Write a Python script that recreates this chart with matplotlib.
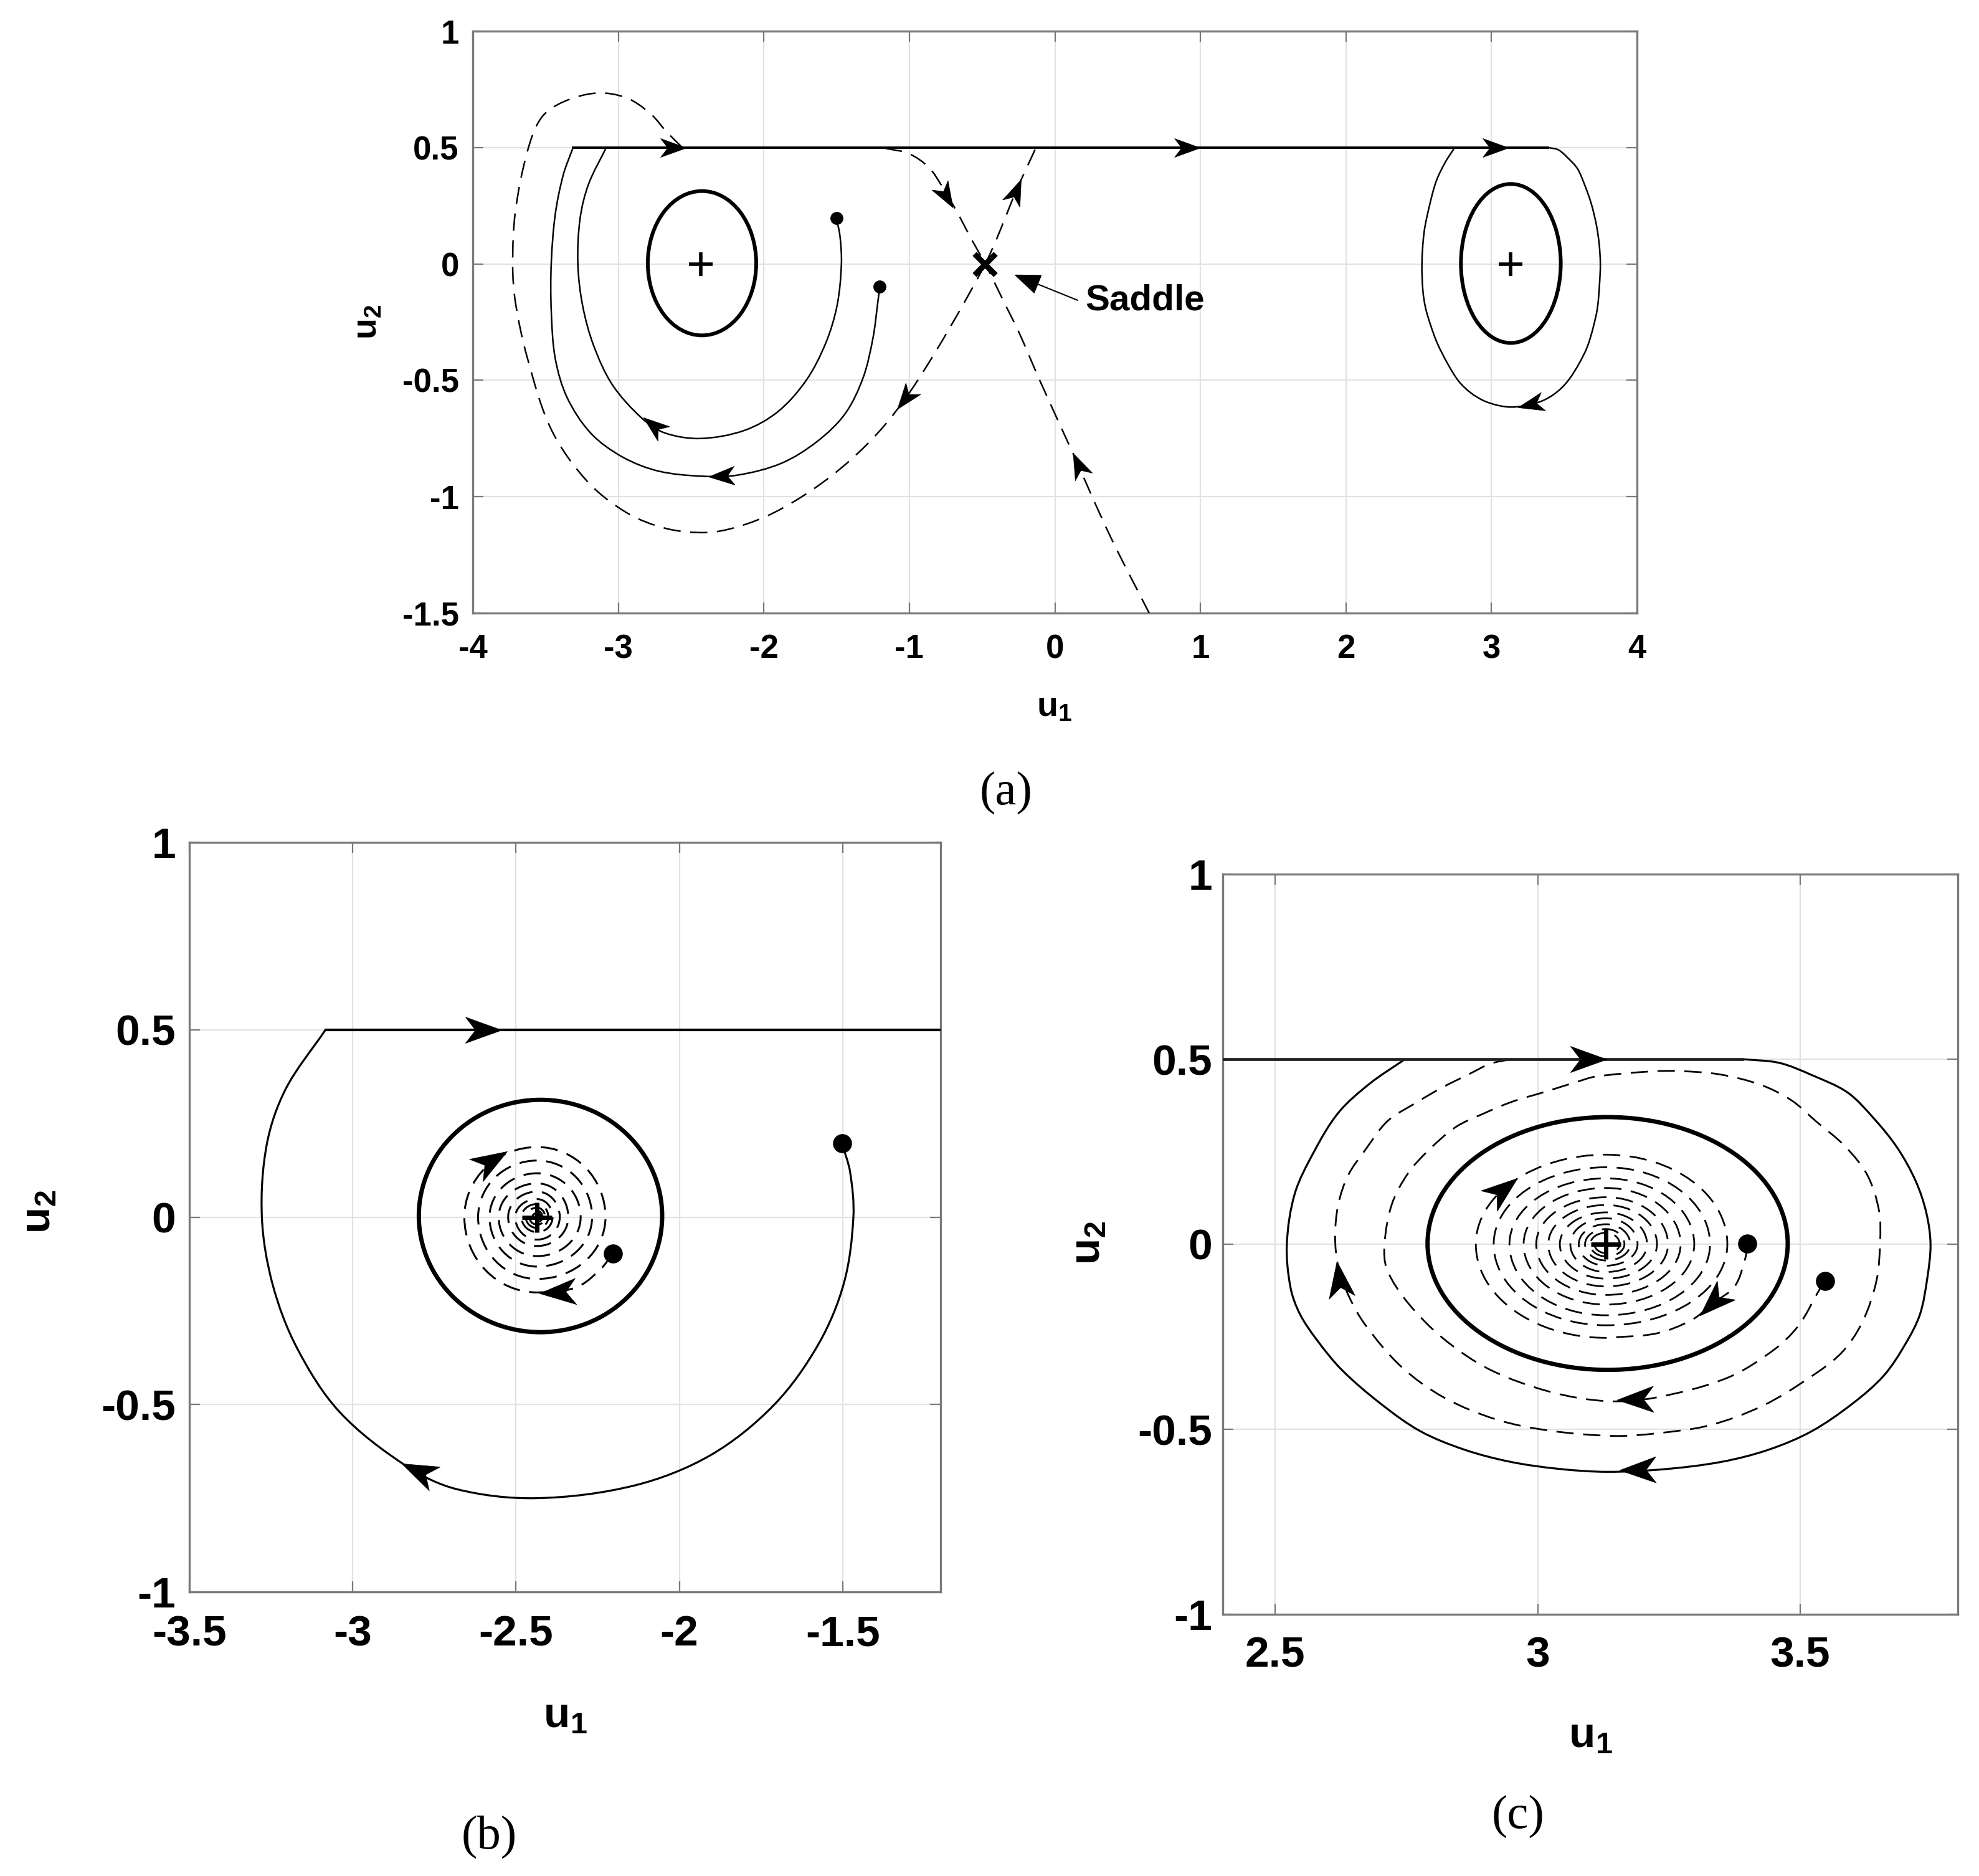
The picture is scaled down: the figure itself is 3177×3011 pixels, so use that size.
import numpy as np
import matplotlib
matplotlib.use('Agg')
import matplotlib.pyplot as plt
from matplotlib.path import Path
from matplotlib.patches import PathPatch, Ellipse
from matplotlib.markers import MarkerStyle
from matplotlib.transforms import Affine2D

plt.rcParams['font.family'] = ['Liberation Sans', 'DejaVu Sans']
plt.rcParams['font.weight'] = 'bold'
plt.rcParams['axes.unicode_minus'] = False
plt.rcParams['mathtext.fontset'] = 'custom'
plt.rcParams['mathtext.rm'] = 'Liberation Sans:bold'
plt.rcParams['mathtext.it'] = 'Liberation Sans:bold'
plt.rcParams['mathtext.bf'] = 'Liberation Sans:bold'
plt.rcParams['lines.scale_dashes'] = False

# ======================= DATA =======================
CENTER_L = (-2.435, 0.0)
CENTER_R = (3.13, 0.0)
SADDLE = (-0.48, 0.0)
SLIDE_U2 = 0.5

# limit cycles: centre u1, centre u2, width, height
CYCLE_L = (-2.425, 0.003, 0.745, 0.62)
CYCLE_R = (3.133, 0.002, 0.686, 0.683)

# initial points
DOTS_A_U1 = [-1.502, -1.203]
DOTS_A_U2 = [0.197, -0.097]
DOTS_B_U1 = [-1.502, -2.204]
DOTS_B_U2 = [0.197, -0.098]
DOTS_C_U1 = [3.547, 3.399]
DOTS_C_U2 = [-0.099, 0.002]

# solid trajectory from (-1.5, 0.2) to the sliding line
TRAJ1_U1 = [-1.502, -1.477, -1.467, -1.496, -1.574, -1.710, -1.904, -2.137, -2.438,
            -2.681, -2.836, -3.04, -3.17, -3.245, -3.278, -3.263, -3.205, -3.083]
TRAJ1_U2 = [0.197, 0.120, 0.0, -0.176, -0.339, -0.501, -0.635, -0.716, -0.750,
            -0.726, -0.664, -0.52, -0.35, -0.18, 0.0, 0.194, 0.342, 0.5]

# solid trajectory from (-1.2, -0.1) to the sliding line
TRAJ2_U1 = [-1.203, -1.217, -1.250, -1.318, -1.441, -1.632, -1.878, -2.178, -2.424,
            -2.724, -2.970, -3.188, -3.352, -3.434, -3.461, -3.461, -3.434, -3.379, -3.311]
TRAJ2_U2 = [-0.097, -0.165, -0.318, -0.489, -0.643, -0.762, -0.856, -0.907, -0.912,
            -0.890, -0.830, -0.728, -0.574, -0.404, -0.199, 0.0, 0.210, 0.381, 0.5]

# solid loop around the right centre (leaves the sliding line and returns to it)
LOOP_R_U1 = [3.39, 3.46, 3.522, 3.59, 3.64, 3.685, 3.72, 3.74, 3.748, 3.742, 3.728,
             3.70, 3.659, 3.60, 3.522, 3.44, 3.35, 3.24, 3.132, 3.04, 2.948, 2.86,
             2.776, 2.70, 2.627, 2.58, 2.547, 2.529, 2.522, 2.537, 2.573, 2.620, 2.679, 2.747]
LOOP_R_U2 = [0.5, 0.49, 0.457, 0.41, 0.34, 0.26, 0.17, 0.085, 0.0, -0.09, -0.189,
             -0.27, -0.355, -0.43, -0.505, -0.555, -0.588, -0.608, -0.615, -0.607, -0.588, -0.555,
             -0.505, -0.43, -0.340, -0.26, -0.189, -0.117, 0.0, 0.136, 0.248, 0.355, 0.433, 0.5]

# sliding segments on u2 = 0.5
SLIDE_A_U1 = [-3.311, 3.39]
SLIDE_B_U1 = [-3.083, -1.2]
SLIDE_C_U1 = [2.4, 3.39]

# dashed: unstable manifold (lower branch) of the saddle, big loop to the line
UNST_LO_U1 = [-0.477, -0.622, -0.813, -1.004, -1.195, -1.413, -1.659, -1.932, -2.178,
              -2.396, -2.669, -2.942, -3.215, -3.461, -3.625, -3.707, -3.726, -3.707,
              -3.625, -3.529, -3.379, -3.147, -2.942, -2.778, -2.669, -2.56]
UNST_LO_U2 = [0.0, -0.165, -0.370, -0.557, -0.711, -0.847, -0.967, -1.069, -1.129,
              -1.154, -1.137, -1.069, -0.933, -0.711, -0.404, -0.165, 0.0, 0.227,
              0.483, 0.628, 0.696, 0.734, 0.713, 0.645, 0.568, 0.5]
# dashed: unstable manifold (upper branch)
UNST_UP_U1 = [-0.477, -0.40, -0.267, -0.13]
UNST_UP_U2 = [0.0, 0.108, 0.312, 0.5]
# dashed: stable manifold, upper branch (from the line down to the saddle)
STAB_UP_U1 = [-1.168, -1.004, -0.867, -0.772, -0.676, -0.567, -0.477]
STAB_UP_U2 = [0.497, 0.474, 0.415, 0.330, 0.227, 0.099, 0.0]
# dashed: stable manifold, lower branch (from the bottom up to the saddle)
STAB_LO_U1 = [0.651, 0.381, 0.111, -0.10, -0.25, -0.349, -0.477]
STAB_LO_U2 = [-1.504, -1.171, -0.796, -0.506, -0.29, -0.165, 0.0]

# panel (b): dashed spiral into the left centre
SPIR_B_LEAD_U1 = [-2.204, -2.239, -2.302, -2.366, -2.435]
SPIR_B_LEAD_U2 = [-0.098, -0.137, -0.182, -0.198, -0.201]
# axis-crossing distances from the centre, clockwise, starting at the bottom
SPIR_B_RADII = [0.201, 0.223, 0.187, 0.209, 0.165, 0.181, 0.151, 0.168, 0.132, 0.146,
                0.117, 0.133, 0.104, 0.118, 0.090, 0.095, 0.077, 0.089, 0.068, 0.069,
                0.060, 0.067, 0.048, 0.047, 0.040, 0.048, 0.035, 0.034, 0.029, 0.035,
                0.025, 0.024, 0.020, 0.024, 0.017, 0.016, 0.013, 0.015, 0.011, 0.010]

# panel (c): dashed spiral into the right centre
SPIR_C_LEAD_U1 = [3.399, 3.395, 3.375, 3.334, 3.294, 3.226, 3.13]
SPIR_C_LEAD_U2 = [0.002, -0.039, -0.114, -0.159, -0.204, -0.241, -0.253]
SPIR_C_RADII = [0.253, 0.248, 0.242, 0.231, 0.219, 0.214, 0.208, 0.198, 0.192, 0.184,
                0.178, 0.168, 0.163, 0.157, 0.152, 0.142, 0.137, 0.133, 0.127, 0.118,
                0.114, 0.110, 0.106, 0.097, 0.093, 0.088, 0.086, 0.078, 0.075, 0.068,
                0.070, 0.060, 0.058, 0.052, 0.054, 0.046, 0.044, 0.040, 0.041, 0.035,
                0.033, 0.030, 0.031, 0.026, 0.024, 0.022]

# panel (c): dashed trajectory from (3.55, -0.1), spiralling out to the line
TRAJ_C_U1 = [3.547, 3.537, 3.497, 3.449, 3.361, 3.226, 3.132, 3.024, 2.909, 2.821,
             2.753, 2.713, 2.708, 2.722, 2.753, 2.792, 2.843, 2.895, 2.953, 3.012,
             3.075, 3.110, 3.216, 3.267, 3.346, 3.424, 3.483, 3.53, 3.585, 3.628,
             3.650, 3.652, 3.645, 3.618, 3.578, 3.517, 3.429, 3.328, 3.226, 3.145,
             3.024, 2.922, 2.821, 2.74, 2.672, 2.64, 2.62, 2.614, 2.62, 2.639,
             2.671, 2.714, 2.769, 2.816, 2.871, 2.91, 2.95]
TRAJ_C_U2 = [-0.099, -0.121, -0.219, -0.286, -0.361, -0.414, -0.424, -0.399, -0.339, -0.256,
             -0.159, -0.069, 0.0, 0.108, 0.192, 0.254, 0.316, 0.352, 0.386, 0.411,
             0.439, 0.453, 0.467, 0.468, 0.459, 0.431, 0.389, 0.332, 0.265, 0.186,
             0.09, 0.006, -0.099, -0.211, -0.294, -0.361, -0.436, -0.489, -0.511, -0.518,
             -0.504, -0.474, -0.414, -0.331, -0.219, -0.14, -0.06, 0.02, 0.108, 0.187,
             0.254, 0.333, 0.383, 0.422, 0.461, 0.488, 0.5]

# arrowheads: position and direction of motion
ARR_A_U1 = [-2.62, 0.91, 3.03, 3.27, -2.76, -2.29, -0.745, -0.267, -1.03, 0.16]
ARR_A_U2 = [0.5, 0.5, 0.5, -0.603, -0.695, -0.91, 0.29, 0.312, -0.578, -0.864]
ARR_A_D1 = [1, 1, 1, -1, -0.178, -1, 0.096, 0.133, -0.19, -0.27]
ARR_A_D2 = [0, 0, 0, -0.15, 0.089, -0.03, -0.103, 0.2, -0.154, 0.375]

ARR_B_U1 = [-2.60, -2.80, -2.372, -2.575]
ARR_B_U2 = [0.5, -0.678, -0.20, 0.15]
ARR_B_D1 = [1, -0.155, -1, 0.17]
ARR_B_D2 = [0, 0.062, -0.05, 0.09]

ARR_C_U1 = [3.097, 3.19, 3.186, 2.622, 3.334, 2.934]
ARR_C_U2 = [0.5, -0.61, -0.42, -0.094, -0.159, 0.148]
ARR_C_D1 = [1, -1, -1, -0.01, -0.027, 0.15]
ARR_C_D2 = [0, -0.02, -0.03, 0.1, -0.037, 0.17]

# axes ticks
A_XTICKS = [-4, -3, -2, -1, 0, 1, 2, 3, 4]
A_XLABELS = ['-4', '-3', '-2', '-1', '0', '1', '2', '3', '4']
A_YTICKS = [-1.5, -1, -0.5, 0, 0.5, 1]
A_YLABELS = ['-1.5', '-1', '-0.5', '0', '0.5', '1']
B_XTICKS = [-3.5, -3, -2.5, -2, -1.5]
B_XLABELS = ['-3.5', '-3', '-2.5', '-2', '-1.5']
BC_YTICKS = [-1, -0.5, 0, 0.5, 1]
BC_YLABELS = ['-1', '-0.5', '0', '0.5', '1']
C_XTICKS = [2.5, 3, 3.5]
C_XLABELS = ['2.5', '3', '3.5']

# ======================= helpers =======================
W, H = 3177, 3011
KAPPA = 0.5523


def catmull_verts(ax, xs, ys):
    """Chord-length Catmull-Rom through the read points, as cubic Bezier segments."""
    P = np.column_stack([xs, ys]).astype(float)
    (x0, x1), (y0, y1) = ax.get_xlim(), ax.get_ylim()
    bb = ax.get_position()
    sc = np.array([bb.width * W / (x1 - x0), bb.height * H / (y1 - y0)])
    n = len(P)
    d = np.array([np.linalg.norm((P[i + 1] - P[i]) * sc) for i in range(n - 1)])
    T = []
    for i in range(n):
        if i == 0:
            T.append((P[1] - P[0]) / d[0])
        elif i == n - 1:
            T.append((P[-1] - P[-2]) / d[-1])
        else:
            T.append((P[i + 1] - P[i - 1]) / (d[i - 1] + d[i]))
    verts = [P[0]]
    codes = [Path.MOVETO]
    for i in range(n - 1):
        verts += [P[i] + T[i] * d[i] / 3.0, P[i + 1] - T[i + 1] * d[i] / 3.0, P[i + 1]]
        codes += [Path.CURVE4] * 3
    return verts, codes


def spiral_verts(cx, cy, radii, start=1):
    dirs = [(1, 0), (0, -1), (-1, 0), (0, 1)]  # clockwise: right, bottom, left, top
    verts, codes = [], []
    for i in range(len(radii) - 1):
        d0 = np.array(dirs[(start + i) % 4], float)
        d1 = np.array(dirs[(start + i + 1) % 4], float)
        r0, r1 = radii[i], radii[i + 1]
        c = np.array([cx, cy])
        p0 = c + r0 * d0
        p3 = c + r1 * d1
        verts += [p0 + KAPPA * r1 * d1, p3 + KAPPA * r0 * d0, p3]
        codes += [Path.CURVE4] * 3
    return verts, codes


def add_curve(ax, verts, codes, lw, dashed=False, color='k', z=3):
    ls = (0, (20, 11)) if dashed else '-'
    ax.add_patch(PathPatch(Path(verts, codes), fill=False, lw=lw, ls=ls,
                           edgecolor=color, zorder=z, capstyle='butt'))


def smooth(ax, xs, ys, lw, dashed=False, color='k', z=3):
    v, c = catmull_verts(ax, xs, ys)
    add_curve(ax, v, c, lw, dashed, color, z)


ARROW_PATH = Path([(1, 0), (-1, 0.72), (-0.45, 0), (-1, -0.72), (1, 0)],
                  [Path.MOVETO, Path.LINETO, Path.LINETO, Path.LINETO, Path.CLOSEPOLY])


def arrowheads(ax, xs, ys, dxs, dys, size):
    for x, y, dx, dy in zip(xs, ys, dxs, dys):
        p0 = ax.transData.transform((x, y))
        p1 = ax.transData.transform((x + dx * 1e-3, y + dy * 1e-3))
        ang = np.degrees(np.arctan2(p1[1] - p0[1], p1[0] - p0[0]))
        m = MarkerStyle(ARROW_PATH, transform=Affine2D().rotate_deg(ang))
        ax.plot([x], [y], marker=m, ms=size, color='k', mec='k', mew=0.5,
                ls='none', zorder=7)


def style_axes(ax, xlim, ylim, xt, xl, yt, yl, fs, xpad, ypad):
    ax.set_xlim(*xlim)
    ax.set_ylim(*ylim)
    ax.set_xticks(xt)
    ax.set_xticklabels(xl)
    ax.set_yticks(yt)
    ax.set_yticklabels(yl)
    ax.grid(True, color='#e2e2e2', lw=1.6)
    ax.set_axisbelow(True)
    ax.tick_params(direction='in', length=12, width=1.6, color='#7a7a7a',
                   top=True, right=True, labelsize=fs)
    ax.tick_params(axis='x', pad=xpad)
    ax.tick_params(axis='y', pad=ypad)
    for s in ax.spines.values():
        s.set_color('#7a7a7a')
        s.set_linewidth(2.4)


def ftext(x, y, s, **kw):
    fig.text(x / W, 1 - y / H, s, ha='center', va='center', **kw)


fig = plt.figure(figsize=(W / 100, H / 100), dpi=100)
fig.patch.set_facecolor('white')

axA = fig.add_axes([759 / W, 1 - 984 / H, (2628 - 759) / W, (984 - 50) / H])
axB = fig.add_axes([304 / W, 1 - 2555 / H, (1510 - 304) / W, (2555 - 1352) / H])
axC = fig.add_axes([1963 / W, 1 - 2591 / H, (3143 - 1963) / W, (2591 - 1403) / H])

style_axes(axA, (-4, 4), (-1.5, 1), A_XTICKS, A_XLABELS, A_YTICKS, A_YLABELS, 38, 24, 16)
style_axes(axB, (-3.5, -1.2), (-1, 1), B_XTICKS, B_XLABELS, BC_YTICKS, BC_YLABELS, 50, 26, 16)
style_axes(axC, (2.4, 3.8), (-1, 1), C_XTICKS, C_XLABELS, BC_YTICKS, BC_YLABELS, 50, 25, 12)

# ---------------- panel (a) ----------------
thin_a = 1.8
axA.plot(SLIDE_A_U1, [SLIDE_U2] * 2, color='k', lw=2.8, zorder=4)
smooth(axA, LOOP_R_U1, LOOP_R_U2, thin_a)
smooth(axA, TRAJ1_U1, TRAJ1_U2, thin_a)
smooth(axA, TRAJ2_U1, TRAJ2_U2, thin_a)
smooth(axA, UNST_LO_U1, UNST_LO_U2, thin_a, dashed=True)
smooth(axA, UNST_UP_U1, UNST_UP_U2, thin_a, dashed=True)
smooth(axA, STAB_UP_U1, STAB_UP_U2, thin_a, dashed=True)
smooth(axA, STAB_LO_U1, STAB_LO_U2, thin_a, dashed=True)
for cyc in (CYCLE_L, CYCLE_R):
    axA.add_patch(Ellipse((cyc[0], cyc[1]), cyc[2], cyc[3], fill=False, lw=4.3,
                          edgecolor='k', zorder=4))
axA.plot([CENTER_L[0], CENTER_R[0]], [CENTER_L[1], CENTER_R[1]], ls='none', marker='+',
         ms=27, mew=4, color='k', zorder=6)
axA.plot(DOTS_A_U1, DOTS_A_U2, ls='none', marker='o', ms=14, color='k', zorder=6)
axA.plot([SADDLE[0]], [SADDLE[1]], ls='none', marker='x', ms=24, mew=6.5, color='k', zorder=6)
arrowheads(axA, ARR_A_U1, ARR_A_U2, ARR_A_D1, ARR_A_D2, 30)
axA.annotate('', xy=(-0.28, -0.046), xytext=(0.156, -0.156),
             arrowprops=dict(arrowstyle='-|>,head_length=0.9,head_width=0.35',
                             lw=1.5, color='k', mutation_scale=30, shrinkA=0, shrinkB=0),
             zorder=6)
axA.text(0.21, -0.158, 'Saddle', ha='left', va='center', fontsize=42, fontweight='bold')

# ---------------- panel (b) ----------------
thin_b = 2.3
axB.plot(SLIDE_B_U1, [SLIDE_U2] * 2, color='k', lw=3.0, zorder=4)
smooth(axB, TRAJ1_U1, TRAJ1_U2, thin_b)
v1, c1 = catmull_verts(axB, SPIR_B_LEAD_U1, SPIR_B_LEAD_U2)
v2, c2 = spiral_verts(CENTER_L[0], CENTER_L[1], SPIR_B_RADII, start=1)
add_curve(axB, v1 + v2, c1 + c2, 2.2, dashed=True)
axB.add_patch(Ellipse((CYCLE_L[0], CYCLE_L[1]), CYCLE_L[2], CYCLE_L[3], fill=False, lw=5,
                      edgecolor='k', zorder=4))
axB.plot([CENTER_L[0]], [CENTER_L[1]], ls='none', marker='+', ms=34, mew=5, color='k', zorder=6)
axB.plot(DOTS_B_U1, DOTS_B_U2, ls='none', marker='o', ms=21, color='k', zorder=6)
arrowheads(axB, ARR_B_U1, ARR_B_U2, ARR_B_D1, ARR_B_D2, 42)

# ---------------- panel (c) ----------------
thin_c = 2.3
axC.plot(SLIDE_C_U1, [SLIDE_U2] * 2, color='#222222', lw=3.4, zorder=4)
smooth(axC, LOOP_R_U1, LOOP_R_U2, thin_c)
smooth(axC, TRAJ_C_U1, TRAJ_C_U2, 2.0, dashed=True)
v1, c1 = catmull_verts(axC, SPIR_C_LEAD_U1, SPIR_C_LEAD_U2)
v2, c2 = spiral_verts(CENTER_R[0], CENTER_R[1], SPIR_C_RADII, start=1)
add_curve(axC, v1 + v2, c1 + c2, 2.0, dashed=True)
axC.add_patch(Ellipse((CYCLE_R[0], CYCLE_R[1]), CYCLE_R[2], CYCLE_R[3], fill=False, lw=5,
                      edgecolor='k', zorder=4))
axC.plot([CENTER_R[0]], [CENTER_R[1]], ls='none', marker='+', ms=34, mew=5, color='k', zorder=6)
axC.plot(DOTS_C_U1, DOTS_C_U2, ls='none', marker='o', ms=21, color='k', zorder=6)
arrowheads(axC, ARR_C_U1, ARR_C_U2, ARR_C_D1, ARR_C_D2, 42)

# ---------------- labels ----------------
ftext(1693, 1135, r'$\mathrm{u_1}$', fontsize=40)
ftext(590, 517, r'$\mathrm{u_2}$', fontsize=40, rotation=90)
ftext(907, 2754, r'$\mathrm{u_1}$', fontsize=50)
ftext(62, 1945, r'$\mathrm{u_2}$', fontsize=50, rotation=90)
ftext(2553, 2786, r'$\mathrm{u_1}$', fontsize=50)
ftext(1747, 1995, r'$\mathrm{u_2}$', fontsize=50, rotation=90)

serif = ['Liberation Serif', 'DejaVu Serif']
ftext(1615, 1272, '(a)', fontsize=55, family=serif, fontweight='normal')
ftext(785, 2948, '(b)', fontsize=55, family=serif, fontweight='normal')
ftext(2437, 2915, '(c)', fontsize=55, family=serif, fontweight='normal')

fig.savefig('out.png', dpi=100, facecolor='white')
